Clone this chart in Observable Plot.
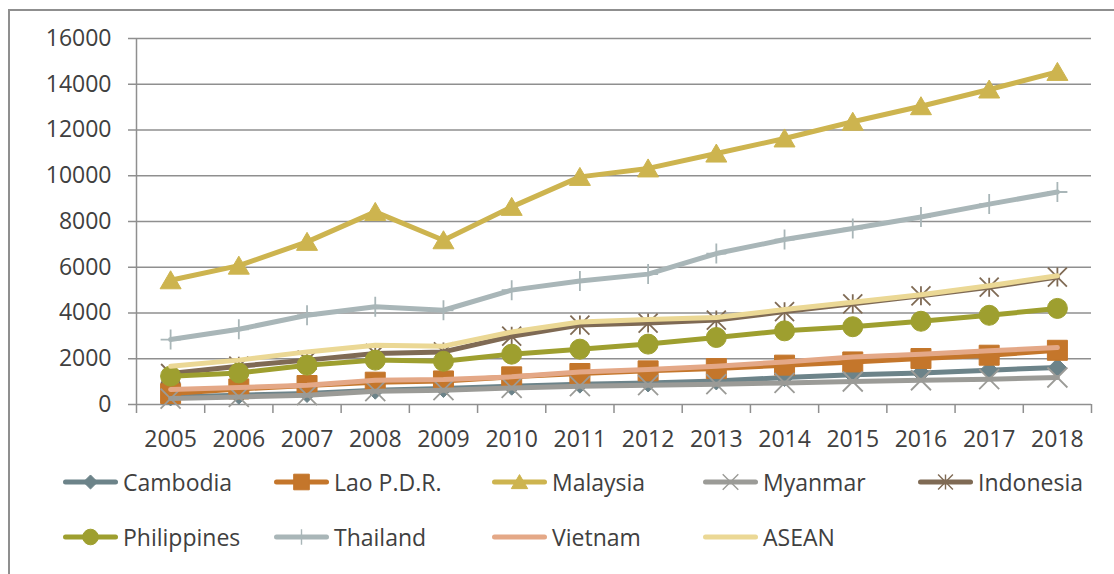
<!DOCTYPE html>
<html>
<head>
<meta charset="utf-8">
<script src="https://cdn.jsdelivr.net/npm/d3@7"></script>
<script src="https://cdn.jsdelivr.net/npm/@observablehq/plot@0.6"></script>
<style>
  html, body { margin: 0; padding: 0; background: #fff; }
  body { width: 1114px; height: 574px; position: relative; overflow: hidden;
         font-family: "Open Sans", sans-serif; color: #404040; }
  #frame { position: absolute; left: 8px; top: 9px; width: 1200px; height: 700px;
           border-left: 2px solid #8f8f8f; border-top: 2px solid #8f8f8f; }
  #chart { position: absolute; left: 0; top: 0; }
  #legend { position: absolute; left: 0; top: 460px; width: 1114px; height: 114px; }
  .item { position: absolute; height: 30px; display: flex; align-items: center; }
  .item svg { display: block; }
  .item span { font-size: 23px; margin-left: 2px; color: #404040; line-height: 30px; }
</style>
</head>
<body>
<div id="frame"></div>
<div id="chart"></div>
<div id="legend"></div>
<script>
// ---- data ----
const years = [2005, 2006, 2007, 2008, 2009, 2010, 2011, 2012, 2013, 2014, 2015, 2016, 2017, 2018];
const cambodia    = [330, 405, 480, 625, 700, 800, 890, 940, 1030, 1180, 1300, 1380, 1500, 1620];
const lao         = [480, 680, 830, 975, 1030, 1210, 1355, 1470, 1570, 1720, 1860, 2010, 2155, 2370];
const malaysia    = [5430, 6070, 7110, 8420, 7180, 8640, 9950, 10320, 10970, 11630, 12360, 13040, 13770, 14540];
const myanmar     = [260, 330, 405, 580, 625, 725, 800, 845, 890, 945, 1005, 1060, 1105, 1180];
const indonesia   = [1355, 1675, 1940, 2230, 2300, 2985, 3470, 3560, 3690, 4060, 4400, 4750, 5130, 5570];
const philippines = [1240, 1380, 1720, 1940, 1890, 2200, 2420, 2640, 2930, 3220, 3400, 3640, 3900, 4200];
const thailand    = [2840, 3290, 3900, 4270, 4120, 5000, 5400, 5700, 6600, 7210, 7690, 8200, 8760, 9290];
const vietnam     = [655, 745, 845, 1060, 1090, 1210, 1425, 1530, 1675, 1860, 2080, 2200, 2345, 2490];
const asean       = [1670, 1940, 2300, 2590, 2550, 3170, 3610, 3720, 3800, 4150, 4470, 4800, 5190, 5630];
const seriesNames = ["Cambodia", "Lao P.D.R.", "Malaysia", "Myanmar", "Indonesia", "Philippines", "Thailand", "Vietnam", "ASEAN"];
const seriesValues = [cambodia, lao, malaysia, myanmar, indonesia, philippines, thailand, vietnam, asean];
const yTicks = [0, 2000, 4000, 6000, 8000, 10000, 12000, 14000, 16000];

// ---- styles ----
const colors = {
  "Cambodia": "#6c8389", "Lao P.D.R.": "#c4762b", "Malaysia": "#cdb44f", "Myanmar": "#9b9b97",
  "Indonesia": "#7f6a54", "Philippines": "#9e9f2f", "Thailand": "#a9b6b8", "Vietnam": "#e4a887", "ASEAN": "#ebd895"
};
const R = (size) => Math.sqrt(size / Math.PI);
const symbols = {
  diamond: { draw(c, s) { const r = R(s); c.moveTo(0, -r); c.lineTo(r, 0); c.lineTo(0, r); c.lineTo(-r, 0); c.closePath(); } },
  square:  { draw(c, s) { const r = R(s); c.rect(-r, -r, 2 * r, 2 * r); } },
  triangle:{ draw(c, s) { const r = R(s); c.moveTo(0, -0.95 * r); c.lineTo(1.05 * r, 0.85 * r); c.lineTo(-1.05 * r, 0.85 * r); c.closePath(); } },
  times:   { draw(c, s) { const r = R(s); c.moveTo(-r, -r); c.lineTo(r, r); c.moveTo(-r, r); c.lineTo(r, -r); } },
  star:    { draw(c, s) { const r = R(s); c.moveTo(-r, -r); c.lineTo(r, r); c.moveTo(-r, r); c.lineTo(r, -r); c.moveTo(0, -r); c.lineTo(0, r); } },
  plus:    { draw(c, s) { const r = R(s); c.moveTo(0, -r); c.lineTo(0, r); c.moveTo(-r, 0); c.lineTo(r, 0); } },
  circle:  { draw(c, s) { const r = R(s); c.moveTo(r, 0); c.arc(0, 0, r, 0, 2 * Math.PI); } }
};
const markers = {
  "Cambodia": { sym: "diamond", r: 9, filled: true },
  "Lao P.D.R.": { sym: "square", r: 10, filled: true },
  "Malaysia": { sym: "triangle", r: 10, filled: true },
  "Myanmar": { sym: "times", r: 10, filled: false },
  "Indonesia": { sym: "star", r: 9.5, filled: false },
  "Philippines": { sym: "circle", r: 10, filled: true },
  "Thailand": { sym: "plus", r: 10, filled: false },
  "Vietnam": null,
  "ASEAN": null
};

const table = seriesNames.map((name, i) => years.map((yr, j) => ({ series: name, year: yr, value: seriesValues[i][j] })));

const grid = "#8f8f8f";
const boundaries = years.map(y => y - 0.5).concat([years[years.length - 1] + 0.5]);

const marks = [
  Plot.axisY({ ticks: yTicks, tickSize: 8, tickPadding: 17, tickFormat: d => String(d), stroke: grid, strokeWidth: 1.5, fill: "#404040", label: null }),
  Plot.gridY(yTicks, { stroke: grid, strokeOpacity: 1, strokeWidth: 1.5 }),
  Plot.ruleX([boundaries[0]], { y1: 0, y2: 16000, stroke: grid, strokeWidth: 1.5 }),
  Plot.axisX({ ticks: boundaries, tickSize: 9, tickFormat: () => "", stroke: grid, strokeWidth: 1.5, label: null }),
  Plot.axisX({ ticks: years, tickSize: 0, tickPadding: 26, tickFormat: d => String(d), fill: "#404040", label: null })
];
seriesNames.forEach((name, i) => {
  const col = colors[name];
  marks.push(Plot.line(table[i], { x: "year", y: "value", stroke: col, strokeWidth: 5, strokeLinejoin: "round", strokeLinecap: "round" }));
  const m = markers[name];
  if (m) {
    marks.push(Plot.dot(table[i], {
      x: "year", y: "value", symbol: symbols[m.sym], r: m.r,
      fill: m.filled ? col : "none", stroke: col, strokeWidth: m.filled ? 1 : 1.8
    }));
  }
});

const chart = Plot.plot({
  width: 1114, height: 460,
  marginLeft: 136, marginRight: 23, marginTop: 38, marginBottom: 56,
  x: { type: "linear", domain: [boundaries[0], boundaries[boundaries.length - 1]] },
  y: { domain: [0, 16000] },
  style: { fontFamily: "'Open Sans', sans-serif", fontSize: "23px", color: "#404040", background: "transparent", fontVariantNumeric: "oldstyle-nums" },
  marks
});
document.getElementById("chart").appendChild(chart);

// ---- legend ----
const legendPos = [
  [63, 481.7], [274, 481.7], [492, 481.7], [703, 481.7], [918, 481.7],
  [63, 537.3], [274, 537.3], [492, 537.3], [703, 537.3]
];
const legend = document.getElementById("legend");
seriesNames.forEach((name, i) => {
  const col = colors[name];
  const m = markers[name];
  const [lx, ly] = legendPos[i];
  const div = document.createElement("div");
  div.className = "item";
  div.style.left = (lx - 3) + "px";
  div.style.top = (ly - 460 - 15) + "px";
  let markerSvg = "";
  if (m) {
    const path = d3.symbol(symbols[m.sym], Math.PI * (m.r * 0.78) ** 2)();
    markerSvg = `<path transform="translate(30.5,15)" d="${path}" fill="${m.filled ? col : "none"}" stroke="${col}" stroke-width="${m.filled ? 1 : 1.4}"/>`;
  }
  div.innerHTML = `<svg width="61" height="30"><line x1="5.5" y1="15" x2="55.5" y2="15" stroke="${col}" stroke-width="5" stroke-linecap="round"/>${markerSvg}</svg><span>${name}</span>`;
  legend.appendChild(div);
});
</script>
</body>
</html>
